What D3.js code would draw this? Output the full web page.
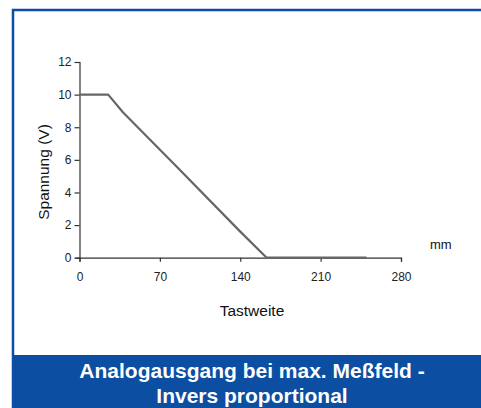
<!DOCTYPE html>
<html>
<head>
	<meta charset="utf-8">
	<title>Analogausgang bei max. Meßfeld</title>
	<style>
		body { margin: 0; background: #fff; font-family: "Liberation Sans", Arial, sans-serif; }
		.axis path, .axis line { stroke: #333; stroke-width: 1.2; }
		.axis text { font-size: 12px; fill: #222; font-family: "Liberation Sans", Arial, sans-serif; }
		.label { font-size: 15.5px; fill: #111; }
		.banner text { font-size: 21px; font-weight: bold; fill: #fff; }
	</style>
</head>
<body>
<div id="chart"></div>
<script src="https://cdn.jsdelivr.net/npm/d3@7"></script>
<script>
	// distance in mm
	var weite = [0, 25, 38, 83, 140, 163, 250];
	// output voltage in V
	var spannung = [10, 10, 8.9, 5.7, 1.6, 0, 0];
	var xTicks = [0, 70, 140, 210, 280];
	var yTicks = [0, 2, 4, 6, 8, 10, 12];

	var blue = "#0b4ea2";
	var W = 481, H = 408;

	var svg = d3.select("#chart").append("svg")
		.attr("width", W)
		.attr("height", H);

	// frame
	svg.append("rect")
		.attr("x", 13).attr("y", 10)
		.attr("width", W).attr("height", H)
		.attr("fill", "#fff")
		.attr("stroke", blue)
		.attr("stroke-width", 2.5);

	var xScale = d3.scaleLinear().domain([0, 280]).range([79.5, 401]);
	var yScale = d3.scaleLinear().domain([0, 12]).range([257.7, 62]);

	svg.append("g")
		.attr("class", "axis")
		.attr("transform", "translate(0," + yScale(0) + ")")
		.call(d3.axisBottom(xScale).tickValues(xTicks).tickSize(4).tickPadding(11));

	svg.append("g")
		.attr("class", "axis")
		.attr("transform", "translate(" + xScale(0) + ",0)")
		.call(d3.axisLeft(yScale).tickValues(yTicks).tickSize(5).tickSizeOuter(4).tickPadding(3));

	var pts = weite.map(function(w, i) { return [w, spannung[i]]; });

	svg.append("path")
		.datum(pts)
		.attr("fill", "none")
		.attr("stroke", "#666")
		.attr("stroke-width", 2.2)
		.attr("stroke-linejoin", "round")
		.attr("d", d3.line()
			.x(function(d) { return xScale(d[0]); })
			.y(function(d) { return yScale(d[1]); }));

	svg.append("text")
		.attr("class", "label")
		.attr("text-anchor", "middle")
		.attr("transform", "translate(49,172) rotate(-90)")
		.text("Spannung (V)");

	svg.append("text")
		.attr("class", "label")
		.attr("x", 430).attr("y", 249)
		.style("font-size", "13px")
		.text("mm");

	svg.append("text")
		.attr("class", "label")
		.attr("text-anchor", "middle")
		.attr("x", 252).attr("y", 316)
		.text("Tastweite");

	var banner = svg.append("g").attr("class", "banner");
	banner.append("rect")
		.attr("x", 12).attr("y", 355)
		.attr("width", W - 12).attr("height", H - 355)
		.attr("fill", blue);
	banner.append("text")
		.attr("text-anchor", "middle")
		.attr("x", 252).attr("y", 378)
		.text("Analogausgang bei max. Meßfeld -");
	banner.append("text")
		.attr("text-anchor", "middle")
		.attr("x", 252).attr("y", 403)
		.text("Invers proportional");
</script>
</body>
</html>
